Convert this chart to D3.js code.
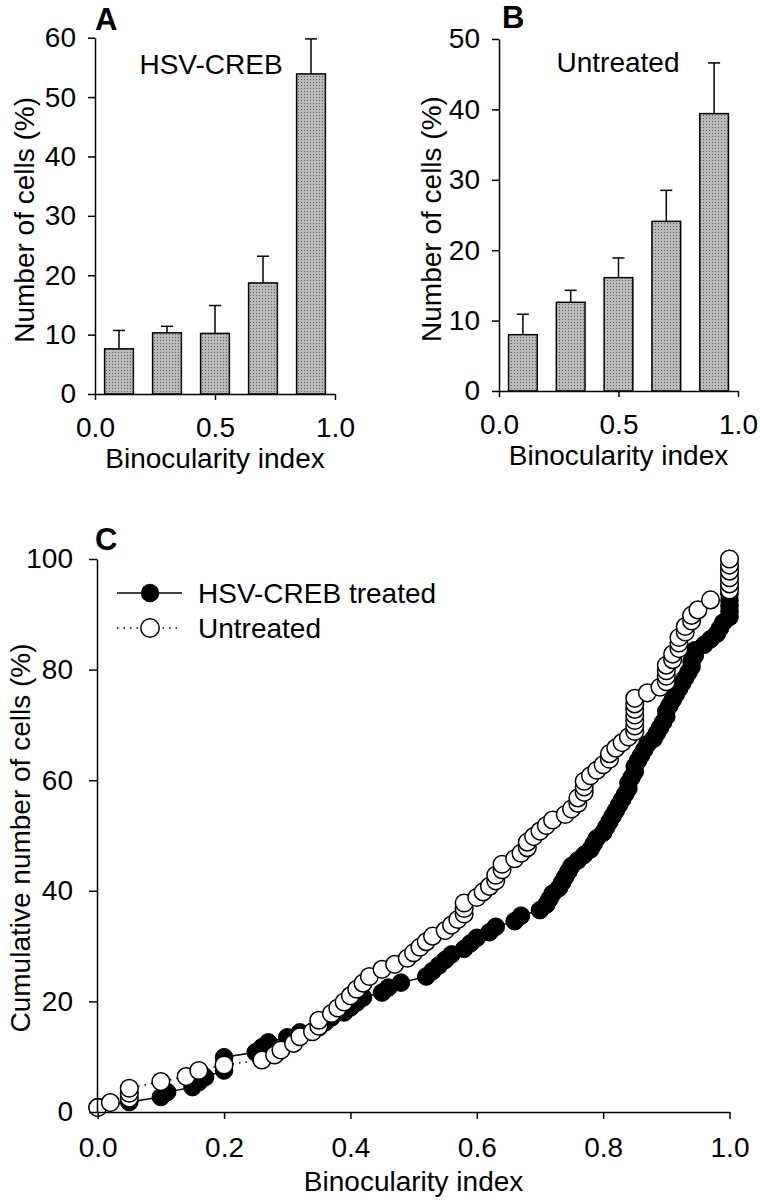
<!DOCTYPE html>
<html>
<head>
<meta charset="utf-8">
<script src="https://cdn.jsdelivr.net/npm/d3@7"></script>
<style>
  html, body { margin: 0; padding: 0; background: #fff; }
  svg text { font-family: "Liberation Sans", Arial, sans-serif; fill: #000; }
</style>
</head>
<body>
<svg id="chart" width="760" height="1200"></svg>
<script>
// ---------------- DATA ----------------
const binCenters = [0.1, 0.3, 0.5, 0.7, 0.9];
const crebMeans = [7.6, 10.3, 10.2, 18.7, 53.9];
const crebErrTop = [10.7, 11.4, 14.9, 23.2, 59.8];
const untreatedMeans = [8.0, 12.6, 16.1, 24.1, 39.4];
const untreatedErrTop = [10.9, 14.3, 18.9, 28.5, 46.6];

const ticksAx = [0.0, 0.5, 1.0];
const ticksAy = [0, 10, 20, 30, 40, 50, 60];
const ticksBy = [0, 10, 20, 30, 40, 50];
const ticksCx = [0.0, 0.2, 0.4, 0.6, 0.8, 1.0];
const ticksCy = [0, 20, 40, 60, 80, 100];

// cumulative distributions: [binocularity index, cumulative %]
const crebCumulative = [
  [0.00,0.9],[0.05,1.8],[0.10,2.7],[0.11,3.6],[0.15,4.5],[0.16,5.4],[0.17,6.3],[0.20,7.5],[0.20,8.7],[0.20,9.9],
  [0.25,10.8],[0.26,11.7],[0.27,12.6],[0.30,13.5],[0.32,14.4],[0.35,15.3],[0.36,16.2],[0.37,17.1],[0.39,18.0],[0.40,18.9],
  [0.41,19.8],[0.42,20.7],[0.45,21.6],[0.46,22.5],[0.48,23.4],[0.52,24.5],[0.53,25.5],[0.54,26.5],[0.55,27.5],[0.56,28.5],
  [0.58,29.5],[0.59,30.5],[0.60,31.5],[0.62,32.5],[0.63,33.5],[0.66,34.5],[0.67,35.5],[0.70,36.5],[0.71,37.5],[0.715,38.5],
  [0.72,39.5],[0.73,40.5],[0.735,41.5],[0.74,42.5],[0.745,43.5],[0.75,44.5],[0.76,45.5],[0.77,46.5],[0.78,47.5],[0.785,48.5],
  [0.79,49.5],[0.80,50.5],[0.805,51.5],[0.81,52.5],[0.815,53.5],[0.82,54.5],[0.825,55.5],[0.83,56.5],[0.835,57.5],[0.84,58.5],
  [0.84,59.5],[0.845,60.5],[0.85,61.5],[0.85,62.5],[0.855,63.5],[0.86,64.5],[0.865,65.5],[0.87,66.5],[0.88,67.5],[0.885,68.5],
  [0.89,69.5],[0.895,70.5],[0.90,71.5],[0.90,72.5],[0.905,73.5],[0.91,74.5],[0.915,75.5],[0.92,76.5],[0.925,77.5],[0.93,78.5],
  [0.935,79.5],[0.94,80.5],[0.94,81.5],[0.945,82.5],[0.945,83.5],[0.96,84.5],[0.97,85.5],[0.98,86.5],[0.985,87.5],[0.99,88.5],
  [1.0,89.5],[1.0,90.5],[1.0,91.5],[1.0,92.5],[1.0,93.7],[1.0,95.0],[1.0,96.2],[1.0,97.5],[1.0,98.7],[1.0,100]
];
const untreatedCumulative = [
  [0.00,0.8],[0.02,1.7],[0.05,2.5],[0.05,3.4],[0.05,4.3],[0.10,5.5],[0.14,6.4],[0.16,7.5],[0.20,8.5],[0.26,9.4],
  [0.28,10.3],[0.29,11.2],[0.31,12.4],[0.32,13.6],[0.34,14.5],[0.35,15.5],[0.35,16.6],[0.37,17.8],[0.38,18.8],[0.39,19.9],
  [0.40,21.0],[0.41,22.2],[0.42,23.3],[0.43,24.5],[0.45,25.8],[0.47,26.7],[0.49,27.8],[0.50,28.8],[0.51,29.8],[0.52,30.8],
  [0.53,31.8],[0.55,32.8],[0.56,33.8],[0.57,34.8],[0.58,35.8],[0.58,36.8],[0.58,37.8],[0.60,38.8],[0.61,39.8],[0.62,40.8],
  [0.63,41.8],[0.63,42.8],[0.64,43.8],[0.64,44.8],[0.66,45.8],[0.67,46.8],[0.68,47.8],[0.68,48.8],[0.69,49.8],[0.70,50.8],
  [0.71,51.8],[0.72,52.8],[0.74,53.8],[0.75,54.8],[0.76,55.8],[0.76,56.8],[0.77,57.8],[0.77,58.8],[0.77,59.8],[0.78,60.8],
  [0.79,61.8],[0.80,62.8],[0.81,63.8],[0.81,64.8],[0.82,65.8],[0.83,66.8],[0.84,67.8],[0.85,68.8],[0.85,69.8],[0.85,70.8],
  [0.85,71.8],[0.85,72.8],[0.85,73.8],[0.85,74.8],[0.87,75.8],[0.89,76.8],[0.90,77.8],[0.90,78.8],[0.90,79.8],[0.90,80.8],
  [0.91,81.8],[0.91,82.8],[0.92,83.8],[0.92,84.8],[0.92,85.8],[0.93,86.8],[0.93,87.8],[0.94,88.8],[0.94,89.8],[0.95,90.8],
  [0.97,92.6],[1.0,94.4],[1.0,95.5],[1.0,96.6],[1.0,97.8],[1.0,98.9],[1.0,100]
];

const seriesNames = ["HSV-CREB treated", "Untreated"];

// ---------------- DRAW ----------------
const svg = d3.select("#chart");
svg.append("rect").attr("width", 760).attr("height", 1200).attr("fill", "#fff");

const defs = svg.append("defs");
const pat = defs.append("pattern").attr("id", "stipple")
  .attr("width", 3).attr("height", 3).attr("patternUnits", "userSpaceOnUse");
pat.append("rect").attr("width", 3).attr("height", 3).attr("fill", "#bababa");
pat.append("rect").attr("x", 1).attr("y", 1).attr("width", 1).attr("height", 1).attr("fill", "#5e5e5e");

const FS = 28;

function styleAxis(g) {
  g.selectAll("path.domain").attr("stroke", "#000").attr("stroke-width", 1.5);
  g.selectAll(".tick line").attr("stroke", "#000").attr("stroke-width", 1.5);
  g.selectAll(".tick text").attr("font-size", FS).attr("font-family", '"Liberation Sans", Arial, sans-serif').attr("fill", "#000");
}

function barPanel(opt) {
  const x = d3.scaleLinear().domain([0, 1]).range([opt.x0, opt.x1]);
  const y = d3.scaleLinear().domain([0, opt.ymax]).range([opt.y0, opt.y1]);
  const g = svg.append("g");
  const bw = x(0.12) - x(0);

  // error bars (upper only)
  g.selectAll("line.err").data(opt.means).enter().append("line")
    .attr("x1", (d, i) => x(binCenters[i])).attr("x2", (d, i) => x(binCenters[i]))
    .attr("y1", d => y(d)).attr("y2", (d, i) => y(opt.errs[i]))
    .attr("stroke", "#000").attr("stroke-width", 1.5);
  g.selectAll("line.cap").data(opt.errs).enter().append("line")
    .attr("x1", (d, i) => x(binCenters[i]) - 6).attr("x2", (d, i) => x(binCenters[i]) + 6)
    .attr("y1", d => y(d)).attr("y2", d => y(d))
    .attr("stroke", "#000").attr("stroke-width", 1.5);

  g.selectAll("rect.bar").data(opt.means).enter().append("rect")
    .attr("x", (d, i) => x(binCenters[i]) - bw / 2)
    .attr("width", bw)
    .attr("y", d => y(d))
    .attr("height", d => y(0) - y(d))
    .attr("fill", "url(#stipple)")
    .attr("stroke", "#000").attr("stroke-width", 1.5);

  const ya = g.append("g").attr("transform", `translate(${opt.x0},0)`)
    .call(d3.axisLeft(y).tickValues(opt.yticks).tickFormat(d3.format("d")).tickSize(7).tickSizeOuter(0).tickPadding(12));
  styleAxis(ya);
  const xa = g.append("g").attr("transform", `translate(0,${opt.y0})`)
    .call(d3.axisBottom(x).tickValues(ticksAx).tickFormat(d3.format(".1f")).tickSize(6).tickSizeOuter(0).tickPadding(17));
  styleAxis(xa);

  g.append("text").attr("x", (opt.x0 + opt.x1) / 2).attr("y", opt.xlabY)
    .attr("text-anchor", "middle").attr("font-size", FS).text("Binocularity index");
  g.append("text").attr("transform", `translate(${opt.ylabX},${(opt.y0 + opt.y1) / 2 + 4}) rotate(-90)`)
    .attr("text-anchor", "middle").attr("font-size", FS).text("Number of cells (%)");
  g.append("text").attr("x", opt.titleX).attr("y", opt.titleY)
    .attr("text-anchor", "middle").attr("font-size", FS).text(opt.title);
  g.append("text").attr("x", opt.letterX).attr("y", opt.letterY)
    .attr("font-size", 31).attr("font-weight", "bold").text(opt.letter);
}

barPanel({ x0: 95, x1: 335, y0: 394, y1: 37.7, ymax: 60, yticks: ticksAy,
  means: crebMeans, errs: crebErrTop, xlabY: 468, ylabX: 34,
  title: "HSV-CREB", titleX: 211, titleY: 74, letter: "A", letterX: 95, letterY: 30 });
barPanel({ x0: 499, x1: 738, y0: 391, y1: 39, ymax: 50, yticks: ticksBy,
  means: untreatedMeans, errs: untreatedErrTop, xlabY: 465, ylabX: 441,
  title: "Untreated", titleX: 618, titleY: 72, letter: "B", letterX: 502, letterY: 28 });

// ---------------- PANEL C ----------------
const xc = d3.scaleLinear().domain([0, 1]).range([97.7, 729.5]);
const yc = d3.scaleLinear().domain([0, 100]).range([1112, 559]);
const gc = svg.append("g");
const R = 8.8;

const lineGen = d3.line().x(d => xc(d[0])).y(d => yc(d[1]));

gc.append("path").datum(crebCumulative).attr("d", lineGen)
  .attr("fill", "none").attr("stroke", "#000").attr("stroke-width", 1.5);
gc.selectAll("circle.crebPt").data(crebCumulative).enter().append("circle")
  .attr("cx", d => xc(d[0])).attr("cy", d => yc(d[1])).attr("r", R)
  .attr("fill", "#000").attr("stroke", "#000").attr("stroke-width", 1);

gc.append("path").datum(untreatedCumulative).attr("d", lineGen)
  .attr("fill", "none").attr("stroke", "#000").attr("stroke-width", 1.5)
  .attr("stroke-dasharray", "1.5,5");
gc.selectAll("circle.untrPt").data(untreatedCumulative).enter().append("circle")
  .attr("cx", d => xc(d[0])).attr("cy", d => yc(d[1])).attr("r", R)
  .attr("fill", "#fff").attr("stroke", "#000").attr("stroke-width", 1.5);

const yca = gc.append("g").attr("transform", "translate(97,0)")
  .call(d3.axisLeft(yc).tickValues(ticksCy).tickFormat(d3.format("d")).tickSize(8).tickSizeOuter(0).tickPadding(16));
styleAxis(yca);
const xca = gc.append("g").attr("transform", "translate(0,1112)")
  .call(d3.axisBottom(xc).tickValues(ticksCx).tickFormat(d3.format(".1f")).tickSize(7).tickSizeOuter(0).tickPadding(18));
styleAxis(xca);

gc.append("text").attr("x", (97.7 + 729.5) / 2).attr("y", 1191)
  .attr("text-anchor", "middle").attr("font-size", FS).text("Binocularity index");
gc.append("text").attr("transform", "translate(30,838) rotate(-90)")
  .attr("text-anchor", "middle").attr("font-size", FS).text("Cumulative number of cells (%)");
gc.append("text").attr("x", 95).attr("y", 550)
  .attr("font-size", 31).attr("font-weight", "bold").text("C");

// legend
const legY = [593, 628];
const leg = gc.append("g");
leg.append("line").attr("x1", 117).attr("x2", 182).attr("y1", legY[0]).attr("y2", legY[0])
  .attr("stroke", "#000").attr("stroke-width", 1.5);
leg.append("circle").attr("cx", 150).attr("cy", legY[0]).attr("r", 9.2).attr("fill", "#000");
leg.append("line").attr("x1", 117).attr("x2", 182).attr("y1", legY[1]).attr("y2", legY[1])
  .attr("stroke", "#000").attr("stroke-width", 1.5).attr("stroke-dasharray", "1.5,5");
leg.append("circle").attr("cx", 150).attr("cy", legY[1]).attr("r", 9.2)
  .attr("fill", "#fff").attr("stroke", "#000").attr("stroke-width", 1.5);
leg.selectAll("text.leg").data(seriesNames).enter().append("text")
  .attr("x", 198).attr("y", (d, i) => legY[i] + 10)
  .attr("font-size", FS).text(d => d);
</script>
</body>
</html>
